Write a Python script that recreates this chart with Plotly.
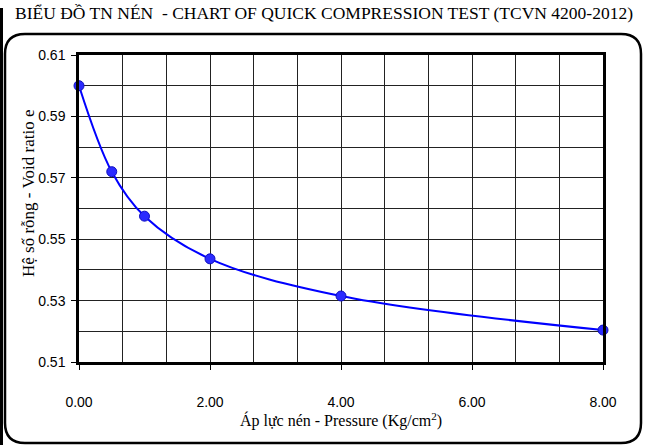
import plotly.graph_objects as go

pressure = [0.0, 0.5, 1.0, 2.0, 4.0, 8.0]
void_ratio = [0.600, 0.572, 0.5575, 0.5436, 0.5315, 0.5204]
x_ticks = [0, 2, 4, 6, 8]
x_labels = ["0.00", "2.00", "4.00", "6.00", "8.00"]
y_ticks = [0.51, 0.53, 0.55, 0.57, 0.59, 0.61]
y_labels = ["0.51", "0.53", "0.55", "0.57", "0.59", "0.61"]

W, H = 646, 445
L, R, T, B = 79, 43, 55, 83
pw, ph = W - L - R, H - T - B


def px(x):
    return (x - L) / pw


def py(y):
    return (H - B - y) / ph


fig = go.Figure()
fig.add_trace(go.Scatter(
    x=pressure, y=void_ratio, mode="lines+markers",
    line=dict(color="#0000ff", width=2, shape="spline", smoothing=1.0),
    marker=dict(size=10, color="#2b2bff", line=dict(color="#1010c0", width=1)),
    showlegend=False, cliponaxis=False,
))

# rounded frame
x0, x1, y0, y1, r = 5, 641, 34, 443, 20
path = (
    f"M {px(x0 + r)} {py(y0)} L {px(x1 - r)} {py(y0)} "
    f"Q {px(x1)} {py(y0)} {px(x1)} {py(y0 + r)} "
    f"L {px(x1)} {py(y1 - r)} Q {px(x1)} {py(y1)} {px(x1 - r)} {py(y1)} "
    f"L {px(x0 + r)} {py(y1)} Q {px(x0)} {py(y1)} {px(x0)} {py(y1 - r)} "
    f"L {px(x0)} {py(y0 + r)} Q {px(x0)} {py(y0)} {px(x0 + r)} {py(y0)} Z"
)
fig.add_shape(type="path", path=path, xref="paper", yref="paper",
              line=dict(color="black", width=2.5), layer="below")
# left page border bar
fig.add_shape(type="line", xref="paper", yref="paper",
              x0=px(1.5), x1=px(1.5), y0=py(8), y1=py(445),
              line=dict(color="black", width=3))

fig.add_annotation(
    text="BIỂU ĐỒ TN NÉN  - CHART OF QUICK COMPRESSION TEST (TCVN 4200-2012)",
    xref="paper", yref="paper", x=px(324), y=py(13), showarrow=False,
    xanchor="center", yanchor="middle",
    font=dict(family="Liberation Serif", size=17.5, color="black"),
)
fig.add_annotation(
    text="Hệ số rỗng - Void ratio e",
    xref="paper", yref="paper", x=px(28), y=py(194), showarrow=False,
    xanchor="center", yanchor="middle", textangle=-90,
    font=dict(family="Liberation Serif", size=17, color="black"),
)

fig.update_xaxes(
    range=[0, 8], tickvals=x_ticks, ticktext=x_labels,
    showgrid=True, gridcolor="#222", gridwidth=1,
    minor=dict(dtick=2/3, tick0=0, showgrid=True, gridcolor="#222", gridwidth=1, ticks=""),
    ticks="outside", ticklen=5, tickcolor="black", ticklabelstandoff=20,
    showline=True, linecolor="black", linewidth=2.5, mirror=True,
    zeroline=False,
    tickfont=dict(family="Liberation Sans", size=14, color="black"),
    title=dict(text="Áp lực nén - Pressure (Kg/cm<sup>2</sup>)", standoff=1,
               font=dict(family="Liberation Serif", size=16, color="black")),
)
fig.update_yaxes(
    range=[0.51, 0.61], tickvals=y_ticks, ticktext=y_labels,
    showgrid=True, gridcolor="#222", gridwidth=1,
    minor=dict(dtick=0.01, tick0=0.51, showgrid=True, gridcolor="#222", gridwidth=1, ticks=""),
    ticks="outside", ticklen=5, tickcolor="black", ticklabelstandoff=3,
    showline=True, linecolor="black", linewidth=2.5, mirror=True,
    zeroline=False,
    tickfont=dict(family="Liberation Sans", size=14, color="black"),
)

fig.update_layout(
    width=W, height=H, margin=dict(l=L, r=R, t=T, b=B),
    paper_bgcolor="white", plot_bgcolor="white",
)

fig.write_html("out.html", config={"displayModeBar": False},
               post_script="document.body.style.margin='0';document.body.style.overflow='hidden';")
